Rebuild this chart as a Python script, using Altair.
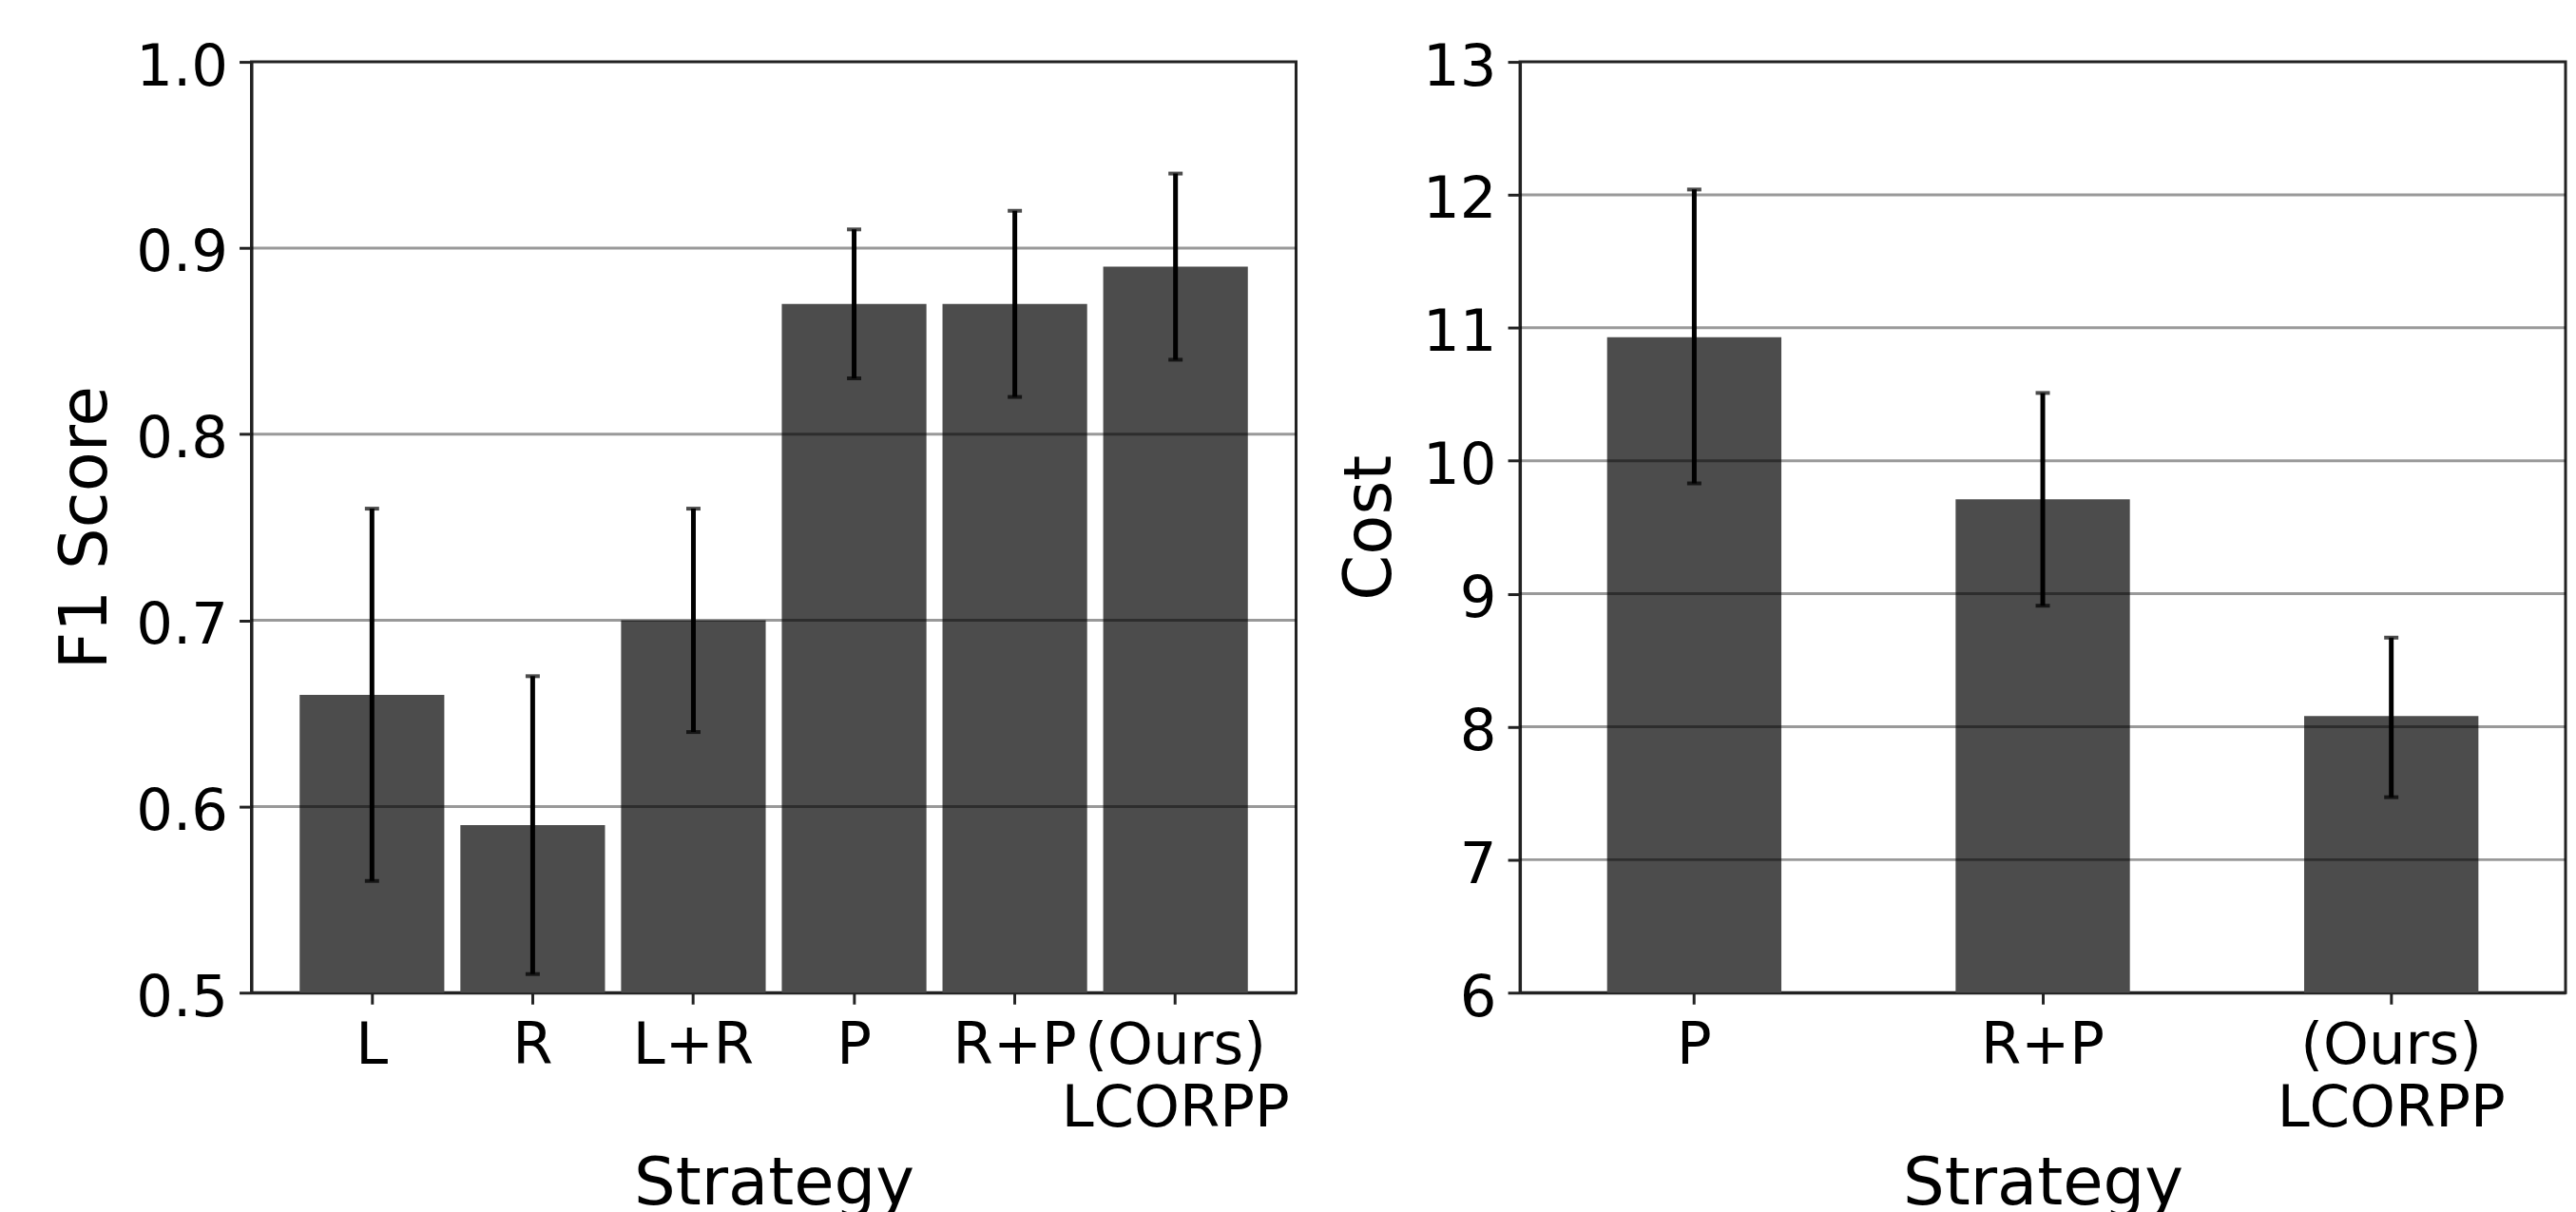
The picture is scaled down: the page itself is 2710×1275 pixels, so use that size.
import altair as alt
import pandas as pd

# ---- data ----
f1_strategies = ["L", "R", "L+R", "P", "R+P", "(Ours)\nLCORPP"]
f1_values = [0.66, 0.59, 0.70, 0.87, 0.87, 0.89]
f1_low = [0.56, 0.51, 0.64, 0.83, 0.82, 0.84]
f1_high = [0.76, 0.67, 0.76, 0.91, 0.92, 0.94]
f1_ticks = [0.5, 0.6, 0.7, 0.8, 0.9, 1.0]

cost_strategies = ["P", "R+P", "(Ours)\nLCORPP"]
cost_values = [10.93, 9.71, 8.08]
cost_low = [9.83, 8.91, 7.47]
cost_high = [12.04, 10.51, 8.67]
cost_ticks = [6, 7, 8, 9, 10, 11, 12, 13]

BAR = "#4c4c4c"
INK = "#222222"
FONT = "DejaVu Sans"


def panel(strats, vals, lo, hi, ticks, ytitle, pin, pout, width, title_pad, fmt):
    df = pd.DataFrame({"Strategy": strats, "value": vals, "lo": lo, "hi": hi})
    grid_df = pd.DataFrame({"tick": ticks[1:-1]})
    ymin, ymax = ticks[0], ticks[-1]
    xscale = alt.Scale(paddingInner=pin, paddingOuter=pout)
    yscale = alt.Scale(domain=[ymin, ymax], zero=False, nice=False)
    xaxis = alt.Axis(
        title="Strategy", labelAngle=0, labelExpr="split(datum.label, '\\n')",
        labelOverlap=False, labelLimit=0, labelBound=False, labelFlush=False,
        tickSize=12, labelPadding=14, labelLineHeight=67, titlePadding=15,
    )
    yaxis = alt.Axis(
        title=ytitle, values=ticks, format=fmt, grid=False,
        tickSize=13, labelPadding=12, labelOffset=6, titlePadding=title_pad,
    )
    X = alt.X("Strategy:N", sort=strats, scale=xscale, axis=xaxis)
    bars = alt.Chart(df).mark_bar(color=BAR).encode(
        x=X,
        y=alt.Y("value:Q", scale=yscale, axis=yaxis),
        y2=alt.datum(ymin),
    )
    grid = alt.Chart(grid_df).mark_rule(color="black", opacity=0.4, strokeWidth=3).encode(
        y=alt.Y("tick:Q", scale=yscale, axis=yaxis)
    )
    stems = alt.Chart(df).mark_rule(color="black", strokeWidth=5).encode(
        x=X,
        y=alt.Y("lo:Q", scale=yscale, axis=yaxis),
        y2="hi:Q",
    )
    caps_lo = alt.Chart(df).mark_tick(color="black", size=15, thickness=4).encode(
        x=X,
        y=alt.Y("lo:Q", scale=yscale, axis=yaxis),
    )
    caps_hi = alt.Chart(df).mark_tick(color="black", size=15, thickness=4).encode(
        x=X,
        y=alt.Y("hi:Q", scale=yscale, axis=yaxis),
    )
    return alt.layer(bars, grid, stems, caps_lo, caps_hi).properties(width=width, height=981)


left = panel(f1_strategies, f1_values, f1_low, f1_high, f1_ticks, "F1 Score",
             0.1, 0.3, 1101, 17, ".1f")
right = panel(cost_strategies, cost_values, cost_low, cost_high, cost_ticks, "Cost",
              0.5, 0.25, 1102, 20, "d")

chart = (
    alt.hconcat(left, right, spacing=236, bounds="flush")
    .properties(padding={"left": 47, "top": 29, "right": 0, "bottom": 0}, background="white")
    .configure_view(stroke=INK, strokeWidth=3)
    .configure_axis(
        labelFont=FONT, titleFont=FONT, labelFontSize=61, titleFontSize=69,
        labelColor="black", titleColor="black", titleFontWeight="normal",
        domainColor=INK, domainWidth=3, tickColor=INK, tickWidth=3,
    )
)

chart.save("out.html", embed_options={"renderer": "svg", "actions": False})
